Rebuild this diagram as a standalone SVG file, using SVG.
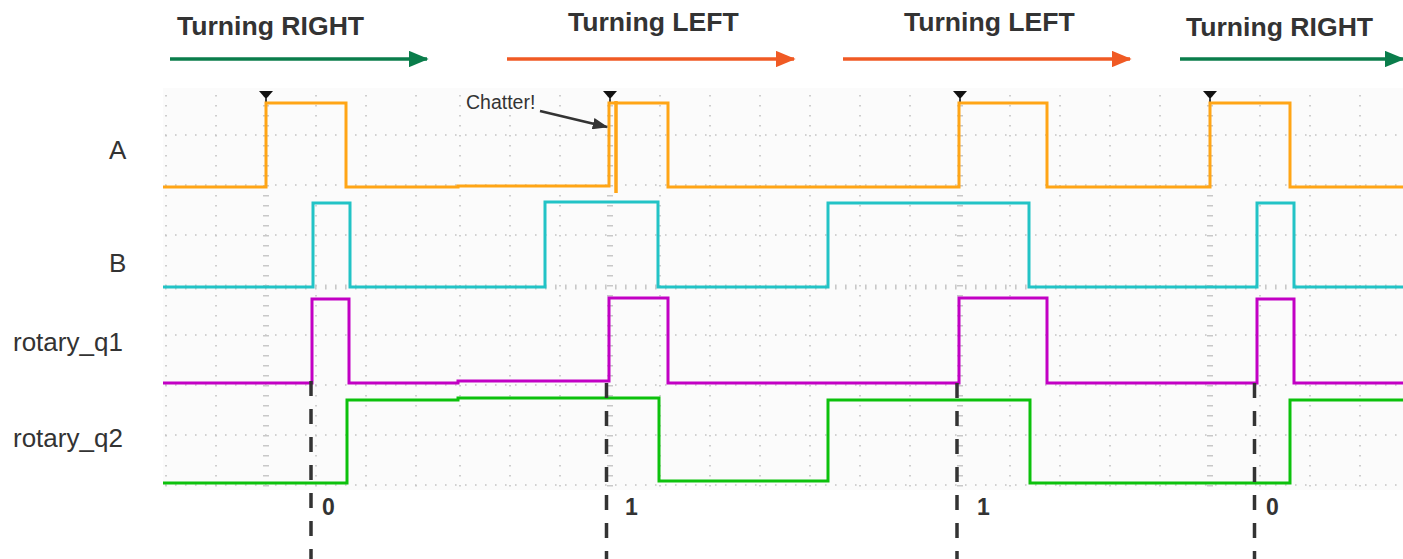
<svg xmlns="http://www.w3.org/2000/svg" width="1403" height="559" viewBox="0 0 1403 559">
  <style>
    .title { font-family: "Liberation Sans", Arial, sans-serif; font-weight: bold; font-size: 26.6px; fill: #333333; }
    .lbl { font-family: "Liberation Sans", Arial, sans-serif; font-size: 26px; fill: #333333; }
    .bit { font-family: "Liberation Sans", Arial, sans-serif; font-weight: bold; font-size: 23px; fill: #333333; }
    .note { font-family: "Liberation Sans", Arial, sans-serif; font-size: 19.5px; fill: #333333; }
    .gcol { stroke: #c4c4c4; stroke-width: 1.6; stroke-dasharray: 1.6 8.4; fill: none; }
    .grow { stroke: #c4c4c4; stroke-width: 1.6; stroke-dasharray: 1.6 8.4; fill: none; }
    .gtrig { stroke: #c8c8c8; stroke-width: 6; stroke-dasharray: 1.6 8.4; fill: none; }
    .gaxis { stroke: #c8c8c8; stroke-width: 5; stroke-dasharray: 1.6 8.4; fill: none; }
    .wave { fill: none; stroke-width: 3; stroke-linejoin: miter; }
    .dash { stroke: #333333; stroke-width: 3.5; stroke-dasharray: 15 13; fill: none; }
    .trig { fill: #111111; }
  </style>
  <defs>
    <marker id="hg" markerWidth="6" markerHeight="5" refX="5.5" refY="2.5" orient="auto" markerUnits="strokeWidth">
      <path d="M0,0 L6,2.5 L0,5 Z" fill="#0a7d4b"/>
    </marker>
    <marker id="ho" markerWidth="6" markerHeight="5" refX="5.5" refY="2.5" orient="auto" markerUnits="strokeWidth">
      <path d="M0,0 L6,2.5 L0,5 Z" fill="#f05a24"/>
    </marker>
    <marker id="hk" markerWidth="6" markerHeight="4.4" refX="5.5" refY="2.2" orient="auto" markerUnits="strokeWidth">
      <path d="M0,0 L6,2.2 L0,4.4 Z" fill="#333333"/>
    </marker>
  </defs>

  <rect x="0" y="0" width="1403" height="559" fill="#ffffff"/>

  <g id="scope-grid">
    <rect x="163" y="88" width="1240" height="402" fill="#fbfbfb"/>
    <g class="gcol">
      <path d="M166,95 V490 M216,95 V490 M316,95 V490 M366,95 V490 M416,95 V490 M460,95 V490 M510,95 V490 M560,95 V490 M660,95 V490 M710,95 V490 M760,95 V490 M810,95 V490 M860,95 V490 M910,95 V490 M1010,95 V490 M1060,95 V490 M1110,95 V490 M1160,95 V490 M1260,95 V490 M1310,95 V490 M1360,95 V490"/>
    </g>
    <g class="grow">
      <path d="M165,135 H1403 M165,185 H1403 M165,235 H1403 M165,335 H1403 M165,385 H1403 M165,435 H1403 M165,485 H1403"/>
    </g>
    <g class="gtrig">
      <path d="M266,95 V490 M610,95 V490 M960,95 V490 M1210,95 V490"/>
    </g>
    <g class="gaxis">
      <path d="M165,287 H1403"/>
    </g>
  </g>

  <g id="trigger-markers" class="trig">
    <path d="M259,91 H273 L266,99 Z M265.2,98 h1.6 v5 h-1.6 Z"/>
    <path d="M603,91 H617 L610,99 Z M609.2,98 h1.6 v5 h-1.6 Z"/>
    <path d="M953,91 H967 L960,99 Z M959.2,98 h1.6 v5 h-1.6 Z"/>
    <path d="M1203,91 H1217 L1210,99 Z M1209.2,98 h1.6 v5 h-1.6 Z"/>
  </g>

  <g id="signal-A">
    <text class="lbl" x="109" y="159">A</text>
    <path class="wave" stroke="#ffa516" d="M163,187 H266 V103 H346 V187 H458 V186 H609 V103 H668 V187 H959 V103 H1047 V187 H1210 V103 H1290 V187 H1403"/>
    <path d="M616,101 V193" stroke="#ffa516" stroke-width="3.5" fill="none"/>
  </g>

  <g id="signal-B">
    <text class="lbl" x="109" y="272">B</text>
    <path class="wave" stroke="#22c3c6" d="M163,287 H313 V203 H350 V287 H545 V202 H658 V287 H828 V203 H1029 V287 H1257 V203 H1294 V287 H1403"/>
  </g>

  <g id="signal-rotary_q1">
    <text class="lbl" x="13" y="351">rotary_q1</text>
    <path class="wave" stroke="#c200c4" d="M163,383 H312 V299 H349 V383 H458 V381 H609 V298 H668 V383 H959 V298 H1047 V383 H1257 V299 H1294 V383 H1403"/>
  </g>

  <g id="signal-rotary_q2">
    <text class="lbl" x="13" y="447">rotary_q2</text>
    <path class="wave" stroke="#0cc10c" d="M163,483 H347 V400 H458 V398 H659 V481 H828 V400 H1030 V483 H1290 V400 H1403"/>
  </g>

  <g id="title-1">
    <text class="title" x="177" y="35">Turning RIGHT</text>
  </g>
  <g id="title-2">
    <text class="title" x="568" y="31">Turning LEFT</text>
  </g>
  <g id="title-3">
    <text class="title" x="904" y="31">Turning LEFT</text>
  </g>
  <g id="title-4">
    <text class="title" x="1186" y="36">Turning RIGHT</text>
  </g>

  <g id="note-chatter">
    <text class="note" x="466" y="109">Chatter!</text>
  </g>

  <g id="bits">
    <text class="bit" x="322" y="515">0</text>
    <text class="bit" x="625" y="515">1</text>
    <text class="bit" x="977" y="515">1</text>
    <text class="bit" x="1266" y="515">0</text>
  </g>

  <g id="connectors">
    <line x1="170" y1="59" x2="427" y2="59" stroke="#0a7d4b" stroke-width="3.3" marker-end="url(#hg)"/>
    <line x1="507" y1="59" x2="794" y2="59" stroke="#f05a24" stroke-width="3.3" marker-end="url(#ho)"/>
    <line x1="843" y1="59" x2="1130" y2="59" stroke="#f05a24" stroke-width="3.3" marker-end="url(#ho)"/>
    <line x1="1180" y1="59" x2="1403" y2="59" stroke="#0a7d4b" stroke-width="3.3" marker-end="url(#hg)"/>
    <line x1="540" y1="111" x2="607" y2="127" stroke="#333333" stroke-width="2.6" marker-end="url(#hk)"/>
    <line class="dash" x1="311" y1="381" x2="311" y2="559"/>
    <line class="dash" x1="606.5" y1="383" x2="606.5" y2="559"/>
    <line class="dash" x1="957" y1="383" x2="957" y2="559"/>
    <line class="dash" x1="1254.5" y1="383" x2="1254.5" y2="559"/>
  </g>
</svg>
